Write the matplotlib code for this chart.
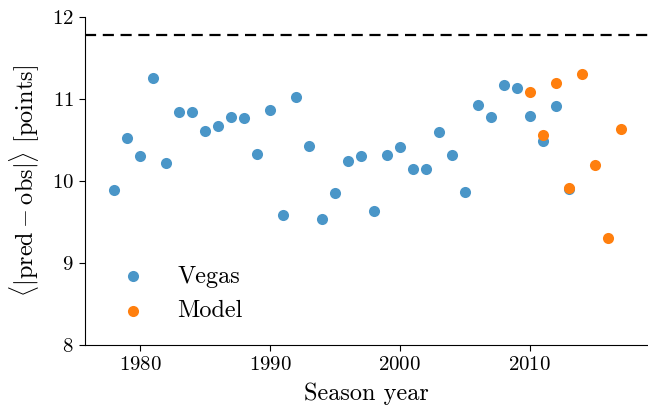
import numpy as np
import matplotlib
matplotlib.use('Agg')
from matplotlib import pyplot as plt

# values
vegas_years = list(range(1978, 2014))
vegas_err = [9.89, 10.52, 10.30, 11.26, 10.22, 10.84, 10.84, 10.61, 10.67, 10.78,
             10.77, 10.33, 10.86, 9.58, 11.03, 10.43, 9.54, 9.85, 10.24, 10.31,
             9.64, 10.32, 10.42, 10.15, 10.15, 10.60, 10.32, 9.87, 10.93, 10.78,
             11.17, 11.14, 10.79, 10.49, 10.91, 9.90]

model_years = list(range(2010, 2018))
model_err = [11.09, 10.56, 11.19, 9.91, 11.30, 10.20, 9.30, 10.63]

baseline = 11.775

plt.rcParams['font.family'] = 'cmr10'
plt.rcParams['mathtext.fontset'] = 'cm'
plt.rcParams['axes.formatter.use_mathtext'] = True

fig = plt.figure(figsize=(6.48, 4.07), dpi=100)
ax = fig.add_axes([85/648, 62/407, 563/648, 328/407])

ax.scatter(vegas_years, vegas_err, s=64, color='#4a96c8', label='Vegas', zorder=3, linewidths=0)
ax.scatter(model_years, model_err, s=64, color='#ff7f0e', label='Model', zorder=4, linewidths=0)
ax.axhline(baseline, color='black', ls='--', lw=1.6, dashes=(5, 3))

ax.set_xlim(1975.76, 2019.1)
ax.set_ylim(8, 12)
ax.set_yticks([8, 9, 10, 11, 12])
ax.set_xticks([1980, 1990, 2000, 2010])

ax.spines['top'].set_visible(False)
ax.spines['right'].set_visible(False)
ax.tick_params(labelsize=15, length=4, pad=4)

ax.set_xlabel('Season year', fontsize=17.5, labelpad=6)
ax.set_ylabel(r'$\langle|\mathrm{pred}-\mathrm{obs}|\rangle$ [points]', fontsize=17.5, labelpad=8)

ax.legend(loc='lower left', frameon=False, fontsize=17.5, handletextpad=0.85,
          borderaxespad=0, borderpad=0.4, bbox_to_anchor=(0.024, 0.04))

fig.savefig('out.png', dpi=100)
